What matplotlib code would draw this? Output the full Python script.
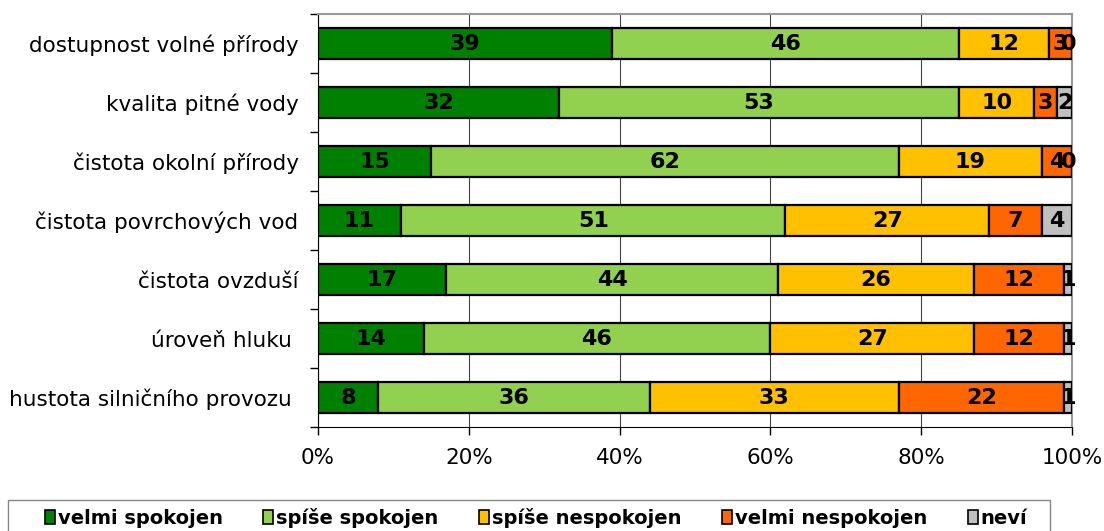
import numpy as np
import matplotlib.pyplot as plt
from matplotlib.patches import Patch, Rectangle

# data (percent), top to bottom
kategorie = ["dostupnost volné přírody", "kvalita pitné vody", "čistota okolní přírody",
             "čistota povrchových vod", "čistota ovzduší", "úroveň hluku ",
             "hustota silničního provozu "]
velmi_spokojen = [39, 32, 15, 11, 17, 14, 8]
spise_spokojen = [46, 53, 62, 51, 44, 46, 36]
spise_nespokojen = [12, 10, 19, 27, 26, 27, 33]
velmi_nespokojen = [3, 3, 4, 7, 12, 12, 22]
nevi = [0, 2, 0, 4, 1, 1, 1]

serie = ["velmi spokojen", "spíše spokojen", "spíše nespokojen", "velmi nespokojen", "neví"]
barvy = ["#008000", "#92D050", "#FFC000", "#FF6600", "#C0C0C0"]
hodnoty = [velmi_spokojen, spise_spokojen, spise_nespokojen, velmi_nespokojen, nevi]

fig = plt.figure(figsize=(11.04, 5.31), dpi=100)
ax = fig.add_axes([318/1104, 104/531, 754/1104, 413/531])

y = np.arange(len(kategorie))
left = np.zeros(len(kategorie))
for nazev, barva, vals in zip(serie, barvy, hodnoty):
    vals = np.array(vals, dtype=float)
    ax.barh(y, vals, left=left, height=0.51, color=barva, edgecolor="black",
            linewidth=1.6, zorder=3)
    for yi, (l, v) in enumerate(zip(left, vals)):
        x = l + v / 2
        if v == 0:
            x = l - 0.5  # nula se kreslí na kraji
        ax.text(x, yi, f"{int(v)}", ha="center", va="center",
                fontsize=16, fontweight="bold", zorder=4)
    left += vals

ax.set_xlim(0, 100)
ax.set_ylim(len(kategorie) - 0.5, -0.5)
ax.set_yticks(y)
ax.set_yticklabels(kategorie, fontsize=15.5)
ax.set_xticks([0, 20, 40, 60, 80, 100])
ax.set_xticklabels(["0%", "20%", "40%", "60%", "80%", "100%"], fontsize=15.5)
ax.set_yticks(np.arange(len(kategorie) + 1) - 0.5, minor=True)
ax.tick_params(axis="y", which="major", length=0, pad=14)
ax.tick_params(axis="y", which="minor", length=6, width=1, direction="out")
ax.tick_params(axis="x", length=6, width=1, direction="out", pad=9)

ax.grid(axis="x", color="#444444", linewidth=0.8, zorder=0)
ax.spines["top"].set_color("#999999")
ax.spines["right"].set_color("#999999")
ax.spines["right"].set_linewidth(1.5)
ax.spines["top"].set_linewidth(1.5)
ax.spines["left"].set_color("black")
ax.spines["bottom"].set_color("black")

# ramecek legendy (spodek je oriznuty)
fig.patches.append(Rectangle((8/1104, -0.05), 1042/1104, (531-500)/531 + 0.05,
                             transform=fig.transFigure, facecolor="none",
                             edgecolor="#888888", linewidth=1))
handles = [Patch(facecolor=b, edgecolor="black", linewidth=1.2) for b in barvy]
leg = fig.legend(handles, serie, loc="center left",
                 bbox_to_anchor=(45/1104, 13/531),
                 ncol=5, frameon=False, handlelength=0.5,
                 handleheight=0.75, handletextpad=0.15, columnspacing=2.1,
                 prop={"weight": "bold", "size": 14}, borderaxespad=0, borderpad=0)

fig.savefig("out.png", dpi=100)
